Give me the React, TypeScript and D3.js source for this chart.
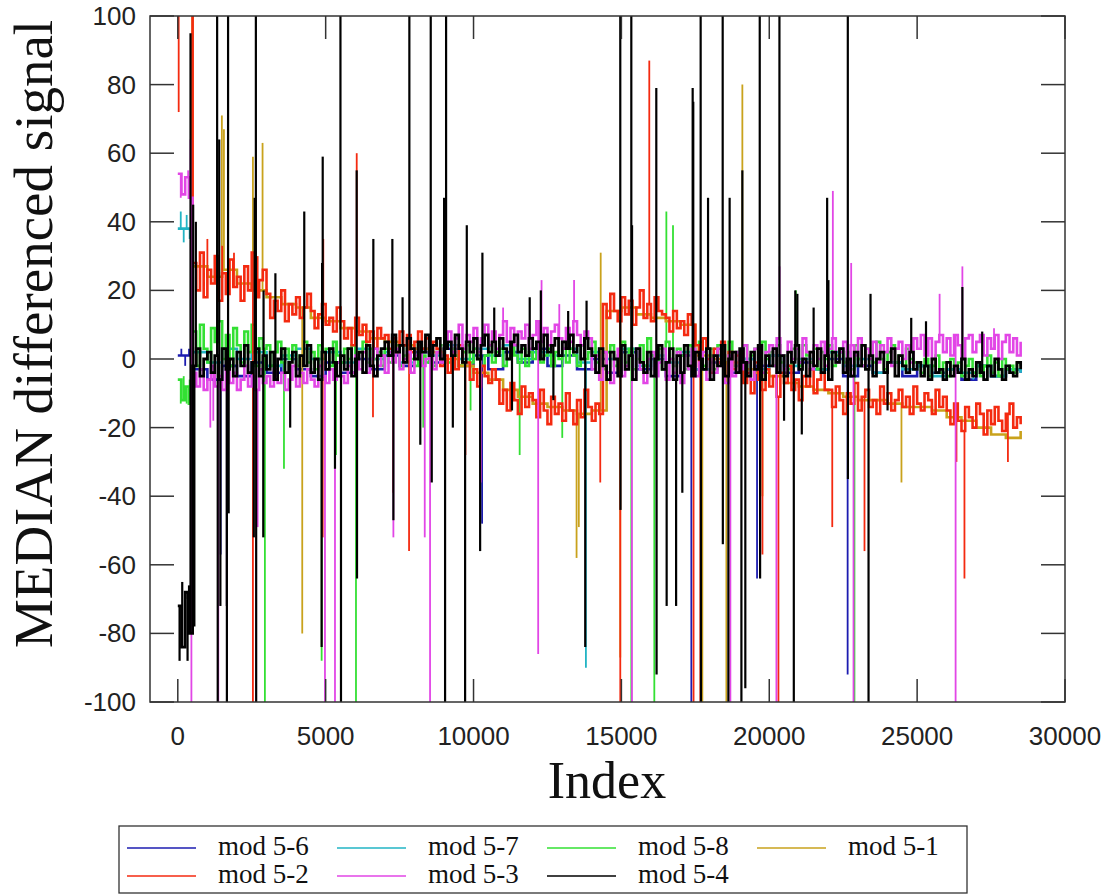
import React from 'react';
import * as d3 from 'd3';

// ---------------- data ----------------
const X_TICKS = [0, 5000, 10000, 15000, 20000, 25000, 30000];
const Y_TICKS = [-100, -80, -60, -40, -20, 0, 20, 40, 60, 80, 100];

// sampled band values (index = i * step)
const mod56 = [
  1, -3, -6, -2, -5, -1, -4, 0, -3, -5,
  -1, -4, 0, -3, 1, -2, 2, -1, 3, -2,
  1, -3, 2, -1, 3, -2, 1, -3, 0, -4,
  2, -3, 0, -5, 1, -3, -1, -4, 0, -2,
  1, -4, -1, -3, 0, -5, -2, -4, -1, -5,
  -2, -4, -3, -6, -2, -5, -3, -4,
];
const mod57 = [
  38, 2, -1, 3, 0, 2, -2, 1, 3, 0,
  2, -1, 3, 0, 2, -1, 3, 1, 4, 0,
  3, 1, 4, 0, 2, 1, 3, -1, 2, 0,
  3, -2, 1, -1, 2, -3, 1, -2, 0, -3,
  1, -2, 0, -3, 2, -2, 0, -4, -1, -3,
  -2, -5, -3, -4, -2, -5, -3, -4,
];
const mod58 = [
  -6, -12, -8, -13,
  8, -2, 10, 3, -1, 9, 5, 11, 0, 7, -2, 9, 4, -1, 8, 2, 10, -2, 6, 3,
  4, -2, 2, 5, -1, 3, 0, 4, -2, 1, 5, -1, 2, -3, 4, 0, 3, -2, 5, 1,
  -1, 3, 0, 4, -2, 2, 5, -1, 3, 0, 2, -2,
  3, -1, 2, 4, -2, 1, 3, 0, -2, 4, 1, -1, 3, -2, 2, 4, 0, -1, 3, 1,
  -2, 2, 4, -1, 3, 0, -2, 1, 4, -1, 2, 3, -2, 0, 4, 1, -1, 3, -2, 2,
  0, 4, -1, 1, 3, -2, 2, 0, 5, -1, 3, 1, -2, 4, 0, 2,
  5, -1, 3, -3, 2, 4, -2, 1, 5, -1, 3, -3, 0, 4, -2, 6, 1, -1, 3, -3,
  5, 0, -2, 3, 1, -3, 4, -1, 2, 5, -2, 0, 3, -3, 4, 1, -1, 5, -2, 2,
  0, 4, -3, 1, 3, -2, 5, 0,
  2, -2, 4, -1, 1, -3, 3, 0, -2, 4, 1, -1, 3, -3, 2, 0, 4, -2, 1, 3,
  -1, 2, -3, 4, 0, -2, 3, 1, -1, 5, 0, -3, 2, 4, -1, 1, -2, 3, 0, -1,
  -1, -4, 0, -5, -2, 1, -4, -1, -5, 0, -3, -1, -5, -2, 0, -4, -1, -5, -2, 1,
  -4, -1, -5, 0, -3, -2, -4, -1, -2,
];
const mod51 = [
  130, 27, 24, 26, 22, 20, 18, 16, 15, 12,
  11, 9, 8, 6, 5, 4, 3, 2, 0, -2,
  -4, -6, -9, -11, -13, -14, -15, -16, -15, 14,
  15, 13, 12, 11, 10, 1, 0, -1, -3, -4,
  -5, -7, -8, -9, -10, -11, -12, -12, -13, -14,
  -14, -15, -17, -18, -20, -22, -23, -21,
];
const mod52 = [
  140, 140, 140, 140,
  28, 20, 31, 18, 26, 22, 30, 17, 25, 19, 29, 21, 24, 17, 27, 20, 31, 18, 23, 26,
  19, 12, 17, 14, 20, 11, 16, 13, 18, 12, 15, 19,
  14, 9, 13, 16, 10, 12, 8, 15,
  11, 6, 9, 4, 12, 7, 10, 5, 8, 3, 9, 6,
  7, 3, 6, 2, 8, 4, 7, 2, 5, 8, 3, 6, 2, 5,
  3, -2, 1, -4, 2, -3, 4, -1,
  -1, -6, -3, -8, -2, -5, -7, -3,
  -6, -13, -9, -15, -7, -12, -16, -8, -14, -10,
  -12, -17, -9, -15, -19, -11, -16, -13, -18, -10, -15, -19, -12, -17, -9, -14, -18, -13, -16,
  16, 12, 19, 14, 11, 18, 13, 17, 10, 15, 20, 12, 16, 11, 18, 14, 13,
  12, 8, 14, 9, 11, 7, 13, 10,
  4, -2, 6, 0, -4, 3, -1, 5, -5, 2, -3, 1,
  -2, -7, -4, -10, -1, -6, -9, -3, -8, -5, -11, -4, -7, -2, -9, -6, -12, -5, -8, -3, -10, -6, -4, -9,
  -9, -14, -8, -12, -16, -10, -13, -7, -15, -11, -9, -14, -12, -16, -8, -13, -10, -15, -12, -9,
  -14, -11, -16, -8, -13, -15, -10, -12, -16, -9, -14, -11,
  -15, -19, -13, -18, -21, -14, -17, -20, -13, -16, -22, -15, -19, -14, -18, -21, -16, -13, -20, -17,
  -19,
];
const mod53 = [
  54, 48, 53, 47,
  -4, -8, -3, -9, -6, -2, -8, -5, -9, -3, -7, -4, -9, -6, -2, -8, -5, -9, -3, -7,
  -5, -8, -3, -7, -4, -9, -6, -2, -8, -4, -7, -3, -6, -8, -2, -5, -7, -3, -6, -1, -5, -7, -2, -4,
  1, -3, 2, -4, 0, 3, -2, 1, -4, 2, -1, 3, -3, 0, 2, -4, 1, 3, -2, 0, 4, -3, 2, -1,
  4, 8, 2, 6, 10, 3, 7, 5, 9, 2, 6, 10, 4, 8, 3, 7, 11, 5, 9, 4,
  8, 6, 10, 3, 7, 11, 5, 9, 4, 8, 10, 6, 3, 9, 5, 11, 7, 4, 8, 6,
  -3, 1, -6, 2, -4, -7, 0, 3, -5, -2, 1, -6, 3, -3, -7, 0, 2, -5, -1, 3,
  -6, 0, -4, 2, -7, 1, -3, 3, -5, -1, 2, -6, 0, -4, 3, -2, -7, 1, -5, 2,
  -3, 4, -1, -6, 3, 0, -4, 2,
  4, -2, 6, 1, -3, 5, 0, 3, -1, 6, 2, -3, 4, 0, 5, -2, 3, 6, -1, 2,
  5, -3, 4, 1, 6, -2, 3, 0, 5, -1, 4, 2, 6, -2, 3, 5, 0, 4, -1, 6,
  3, 7, 1, 6, 0, 5, 7, 2, 6, 1, 7, 4, 0, 6, 7, 2, 5, 7, 1, 6,
  3, 7, 0, 5, 7, 2, 6, 1, 5,
];
const mod54 = [
  -72, -84, -68, -80,
  -2, 3, -5, 0, 2, -4, 1, -6, 3, -3, 0, -5, 2, -2, 4, -4, -1, 3, -5, 1,
  -3, 2, -6, 0, 3, -4, -1, 2, -5, 1, -2, 4, -4, 0, -6, 2, -3, 3, -1, -5,
  1, -3, 3, -5, 0, 2, -4, 4, -2, -5, 1, 3,
  5, 1, 7, 2, 4, -1, 6, 3, 0, 5, 2, 7, 1, 4, 6, 0, 3, 5, 1, 7,
  3, -1, 5, 2, 6, 0, 4, 7, 2, 5, 1, 6, 3, 0, 5, 7, 2, 4, 1, 6,
  3, 5, 0, 7, 2, 4, 6, 1, 5, 3, 7, 2, 4, 0, 6, 3,
  1, -4, 3, -2, -6, 2, 0, -5, 4, -3, 1, -6, 3, -1, -4, 2, -5, 0, 4, -3,
  -1, 3, -6, 1, -4, 4, -2, -5, 2, 0, -3, 3, -6, 1, -2, 4, -5, 0, 2, -4,
  3, -1, -5, 2, -3, 4, -6, 1,
  -2, 3, -4, 1, -5, 2, -1, 4, -3, 0, -5, 2, -2, 3, -4, 1, -6, 2, -1, 3,
  -4, 0, -5, 2, -2, 4, -3, 1, -5, 0, 2, -4, -1, 3, -5, 1, -2, -4, 2, -3,
  -1, -5, -2, -6, 0, -4, -3, -6, -1, -5, -2, -4, 0, -6, -3, -5, -1, -4, -6, -2,
  -5, 0, -3, -6, -2, -4, -5, -1, -3,
];

// spikes: [index, value]
const spikes56: [number, number][] = [
  [120, 3], [250, -2], [380, 3], [1450, -57], [10290, -48], [17365, -130],
  [19587, -64], [22650, -92],
];
const spikes57: [number, number][] = [
  [100, 43], [200, 34], [300, 42], [400, 35], [13800, -90], [26900, -6],
];
const spikes58: [number, number][] = [
  [100, -13], [200, -5], [300, -13], [400, -6], [500, -70], [1650, -72],
  [2945, -130], [3590, -32], [4864, -88], [5350, -28], [6025, -130],
  [8300, -20], [9900, -15], [11560, -28], [13000, -23], [15335, -130],
  [16113, -130], [16520, 43], [16745, 39], [20900, 20], [22880, -130],
];
const spikes51: [number, number][] = [
  [1490, 71], [1560, 67], [2540, 59], [2866, 63], [4208, -80], [13484, -58],
  [13560, -49], [14300, 31], [14962, -87], [17737, -130], [18550, -130],
  [19090, 80], [19770, -40], [24470, -36],
];
const spikes52: [number, number][] = [
  [30, 72], [1000, 35], [1500, 33], [1900, 31], [2540, -130], [2700, 30],
  [4900, -52], [4920, 35], [6050, 60], [6600, -17], [7280, -39], [7820, -56],
  [9726, -28], [14285, -36], [14962, -130], [15943, 87], [17440, -130],
  [17670, -130], [19770, -57], [20310, -130], [22130, -49], [23220, -56],
  [26330, -30], [26600, -64], [28070, -30],
];
const spikes53: [number, number][] = [
  [100, 47], [350, 55], [430, 64], [460, -130], [1100, -20], [1200, -18],
  [1370, -130], [1650, -72], [2700, -49], [4976, -130], [5315, -130],
  [7290, -52], [8350, -52], [8530, -130], [10250, -36], [11000, 15],
  [12186, -86], [12300, 23], [12900, 16], [13400, 23], [15357, -130],
  [18685, -130], [20242, -130], [20350, 27], [22150, 49], [22770, 28],
  [22849, -130], [25760, 19], [26301, -130], [26530, 27], [27600, 9],
];
const spikes54: [number, number][] = [
  [60, -88], [150, -65], [250, -70], [330, -88], [380, -66],
  [430, 95], [470, -80], [520, 45], [560, -78], [610, 40],
  [1330, 130], [1350, -130], [1400, 64], [1440, -72],
  [1660, -130], [1700, 130], [1720, -45],
  [2570, -52], [2600, 47], [2640, 130], [2650, -130],
  [2890, -52], [2900, 20], [3300, 25], [3800, -20], [4276, 43],
  [4864, -84], [4880, 28], [4900, 59], [5315, -32],
  [5500, 130], [5518, -130], [6049, 55], [6060, -64], [6612, 35],
  [7255, 35], [7290, -47], [7600, 18], [7830, 130], [8200, -25],
  [8553, 130], [8587, -36],
  [9004, 47], [9038, -130], [9072, 130], [9300, -20],
  [9715, -130], [9772, 39], [10223, -56], [10300, 31], [10700, 15],
  [11300, -15], [11900, 18], [12276, 20], [12700, -12], [13200, 14],
  [13777, -84], [13822, 17], [14962, 130], [14970, -44],
  [15335, 130], [15360, 39], [16180, 79], [16190, -92], [16530, -72],
  [16850, -72], [17060, -39], [17410, 79], [17430, 75],
  [17680, 130], [17690, -130], [17930, 47],
  [18425, 130], [18430, -54], [18618, -130], [18660, 47],
  [19058, -130], [19090, 55], [19190, -96], [19678, 130], [19690, -64],
  [20344, 130], [20500, -18], [20830, -130], [20880, 20], [20950, 19],
  [21100, -22], [21500, 15], [21957, 47], [22000, 23], [22656, 130],
  [22660, -35], [23357, -130], [23424, 19], [24000, -15], [24800, 12],
  [25300, 11], [26530, 21], [27200, 8],
];

const SERIES = [
  { name: 'mod 5-6', color: '#1c1cb0', step: 500, values: mod56, spikes: spikes56 },
  { name: 'mod 5-7', color: '#22b4c4', step: 500, values: mod57, spikes: spikes57 },
  { name: 'mod 5-8', color: '#33e033', step: 125, values: mod58, spikes: spikes58 },
  { name: 'mod 5-1', color: '#c9a21c', step: 500, values: mod51, spikes: spikes51 },
  { name: 'mod 5-2', color: '#f42a10', step: 125, values: mod52, spikes: spikes52 },
  { name: 'mod 5-3', color: '#e246e6', step: 125, values: mod53, spikes: spikes53 },
  { name: 'mod 5-4', color: '#000000', step: 125, values: mod54, spikes: spikes54 },
];

// ---------------- layout ----------------
const W = 1118, H = 896;
const L = 150, R = 1065, T = 16, B = 702;

export default function App() {
  const x = d3.scaleLinear().domain([-940, 30000]).range([L, R]);
  const y = d3.scaleLinear().domain([-100, 100]).range([B, T]);

  const bandLine = (step: number) =>
    d3.line<number>()
      .x((_, i) => x(i * step))
      .y((d) => y(d))
      .curve(d3.curveStepAfter);
  const seg = d3.line<[number, number]>().x((d) => x(d[0])).y((d) => y(d[1]));

  const legendCols = [127, 337, 547, 757];
  const legendRows = [848, 876];
  const serif = "'Liberation Serif', 'Times New Roman', serif";

  return (
    <svg width={W} height={H} style={{ position: 'absolute', left: 0, top: 0, background: '#fff' }}
      fontFamily="'Liberation Sans', Arial, sans-serif">
      <defs>
        <clipPath id="plot">
          <rect x={L} y={T} width={R - L} height={B - T} />
        </clipPath>
      </defs>
      <rect x={0} y={0} width={W} height={H} fill="#fff" />
      <g clipPath="url(#plot)">
        {SERIES.map((s) => {
          const isBlack = s.color === '#000000';
          return (
            <g key={s.name} stroke={s.color} fill="none">
              <path d={bandLine(s.step)(s.values) || ''} strokeWidth={isBlack ? 2.8 : 2.6} />
              {s.spikes.map(([idx, v], k) => {
                const base = s.values[Math.min(s.values.length - 1, Math.floor(idx / s.step))];
                return <path key={k} d={seg([[idx, base], [idx, v]]) || ''} strokeWidth={isBlack ? 2.2 : 1.8} />;
              })}
            </g>
          );
        })}
      </g>
      {/* frame */}
      <rect x={L} y={T} width={R - L} height={B - T} fill="none" stroke="#333" strokeWidth={1.5} />
      {/* ticks */}
      {Y_TICKS.map((t) => (
        <g key={'y' + t}>
          <line x1={L} x2={L + 24} y1={y(t)} y2={y(t)} stroke="#333" strokeWidth={1.5} />
          <line x1={R - 24} x2={R} y1={y(t)} y2={y(t)} stroke="#333" strokeWidth={1.5} />
          <text x={136} y={y(t) + 9} textAnchor="end" fontSize={26} fill="#222">{t}</text>
        </g>
      ))}
      {X_TICKS.map((t) => (
        <g key={'x' + t}>
          <line x1={x(t)} x2={x(t)} y1={B} y2={B - 23} stroke="#333" strokeWidth={1.5} />
          <line x1={x(t)} x2={x(t)} y1={T} y2={T + 23} stroke="#333" strokeWidth={1.5} />
          <text x={x(t)} y={745} textAnchor="middle" fontSize={26} fill="#222">{t}</text>
        </g>
      ))}
      {/* axis labels */}
      <text x={607} y={798} textAnchor="middle" fontSize={52} fontFamily={serif} fill="#111">Index</text>
      <text transform="translate(52,334) rotate(-90)" textAnchor="middle" fontSize={55}
        fontFamily={serif} fill="#111">MEDIAN differenced signal</text>
      {/* legend */}
      <rect x={119} y={826} width={848} height={67} fill="#fff" stroke="#333" strokeWidth={1.3} />
      {SERIES.map((s, i) => {
        const cx = legendCols[i % 4];
        const cy = legendRows[Math.floor(i / 4)];
        return (
          <g key={'lg' + s.name}>
            <line x1={cx} x2={cx + 69} y1={cy} y2={cy} stroke={s.color} strokeWidth={1.7} />
            <text x={cx + 91} y={cy + 7} fontSize={27} fontFamily={serif} fill="#111">{s.name}</text>
          </g>
        );
      })}
    </svg>
  );
}
